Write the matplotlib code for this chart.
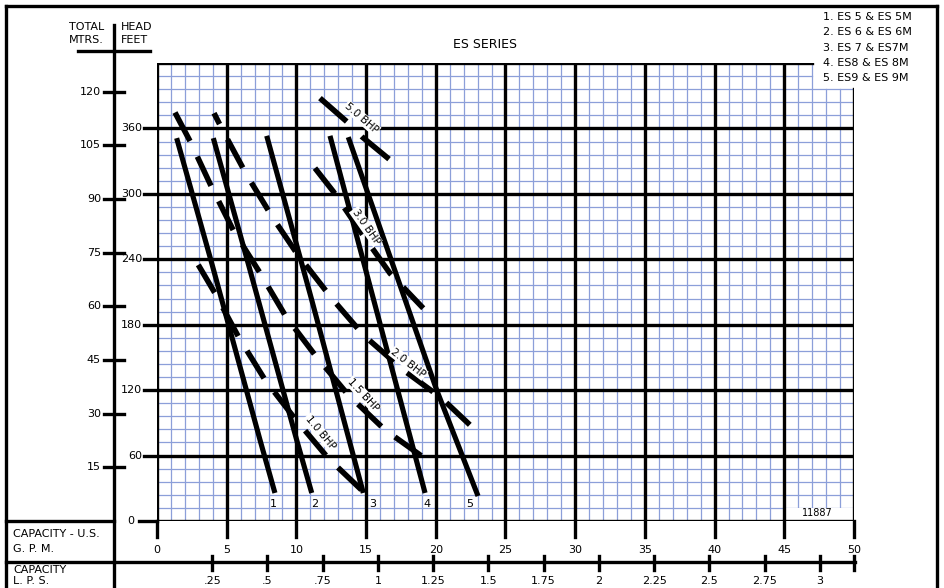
"""
ES series pump performance chart: head vs capacity, with BHP lines.
"""
import matplotlib
matplotlib.use("Agg")
import matplotlib.pyplot as plt
from matplotlib.patches import Rectangle
from matplotlib.transforms import blended_transform_factory as blend

plt.rcParams.update({"font.family": "DejaVu Sans", "font.size": 8})

# ---------------------------------------------------------------------------
# Data (capacity in US GPM, total head in feet)
# ---------------------------------------------------------------------------
CURVE_NAMES = ["1", "2", "3", "4", "5"]
CURVE_GPM = [
    [1.41, 3.92, 7.39, 8.46],
    [4.04, 6.53, 10.02, 11.10],
    [7.87, 11.10, 14.80],
    [12.41, 19.23],
    [13.72, 15.04, 20.06, 23.03],
]
CURVE_FT = [
    [351.1, 236.7, 74.3, 25.7],
    [351.1, 236.7, 74.3, 25.7],
    [353.2, 202.7, 25.7],
    [353.2, 25.7],
    [352.0, 303.7, 120.2, 22.9],
]

BHP_NAMES = ["1.0 BHP", "1.5 BHP", "2.0 BHP", "3.0 BHP", "5.0 BHP"]
BHP_GPM = [
    [2.96, 4.16, 5.90, 7.75, 9.78, 12.29, 14.92],
    [1.29, 2.42, 3.92, 5.52, 7.39, 9.25, 11.33, 13.72, 16.36, 19.58],
    [4.09, 4.76, 6.43, 8.30, 10.02, 12.53, 14.80, 17.67, 20.42, 22.58],
    [11.33, 12.65, 14.68, 16.71, 19.10],
    [11.69, 13.61, 14.68, 16.71],
]
BHP_FT = [
    [234.9, 208.9, 167.6, 129.4, 95.7, 57.5, 25.4],
    [374.6, 347.1, 306.1, 265.4, 227.5, 187.4, 152.3, 115.6, 83.5, 54.1],
    [374.0, 357.1, 317.4, 278.2, 245.6, 204.3, 170.6, 138.5, 112.6, 86.5],
    [323.6, 302.1, 263.9, 227.2, 195.1],
    [387.8, 366.3, 352.6, 331.2],
]

GPM_TICKS = [0, 5, 10, 15, 20, 25, 30, 35, 40, 45, 50]
FT_TICKS = [0, 60, 120, 180, 240, 300, 360]
M_TICKS = [15, 30, 45, 60, 75, 90, 105, 120]
LPS_TICKS = [0.25, 0.5, 0.75, 1.0, 1.25, 1.5, 1.75, 2.0, 2.25, 2.5, 2.75, 3.0]
LPS_LABELS = [".25", ".5", ".75", "1", "1.25", "1.5", "1.75", "2", "2.25", "2.5", "2.75", "3"]
LEGEND = ["1. ES 5 & ES 5M", "2. ES 6 & ES 6M", "3. ES 7 & ES7M",
          "4. ES8 & ES 8M", "5. ES9 & ES 9M"]

FT_PER_M = 3.28084
GPM_PER_LPS = 15.850

# ---------------------------------------------------------------------------
# Layout (pixels) and label placement
# ---------------------------------------------------------------------------
W, H = 944, 588
GX0, GX1, GY0, GY1 = 157, 854, 521, 63      # grid box in pixels
XMAX, YMAX = 50, 420
NOTCH_X, NOTCH_Y = 47, 396                   # legend cut-out, top right

CURVE_LABEL_GPM = [8.32, 11.33, 15.49, 19.37, 22.45]
CURVE_LABEL_FT = 16.0
BHP_LABEL_GPM = [11.69, 14.80, 18.03, 14.98, 14.68]
BHP_LABEL_FT = [81.2, 115.6, 144.7, 270.0, 369.4]
BHP_LABEL_ROT = [-50, -47, -38, -55, -41]
BHP_DASH = [(0, (5.8, 3.1)), (0, (5.8, 3.1)), (3.6, (5.8, 3.1)),
            (0, (5.8, 3.1)), (0, (6.4, 3.8))]

MINOR = "#8c9fd9"
LW_MAJ = 2.4

fig = plt.figure(figsize=(W / 100, H / 100), dpi=100)
frame = fig.add_axes([0, 0, 1, 1])
frame.set_xlim(0, W); frame.set_ylim(H, 0); frame.axis("off")

ax = fig.add_axes([GX0 / W, (H - GY0) / H, (GX1 - GX0) / W, (GY0 - GY1) / H])
ax.set_xlim(0, XMAX); ax.set_ylim(0, YMAX); ax.axis("off")
ax.patch.set_visible(False)

# --- minor grid ---------------------------------------------------------
for g in range(0, XMAX + 1):
    top = NOTCH_Y if g > NOTCH_X else YMAX
    ax.plot([g, g], [0, top], color=MINOR, lw=0.9, zorder=1)
for f in range(0, YMAX + 1, 12):
    right = NOTCH_X if f > NOTCH_Y else XMAX
    ax.plot([0, right], [f, f], color=MINOR, lw=0.9, zorder=1)

# white box behind the drawing number
ax.add_patch(Rectangle((45, 0), 5, 11.7, facecolor="white", edgecolor="none", zorder=1.5))
ax.text(47.4, 7.6, "11887", ha="center", va="center", fontsize=7, zorder=5)

# --- major grid ---------------------------------------------------------
for g in GPM_TICKS:
    top = NOTCH_Y if g > NOTCH_X else YMAX
    ax.plot([g, g], [0, top], color="black", lw=LW_MAJ, zorder=2, solid_capstyle="projecting")
for f in FT_TICKS + [YMAX]:
    right = NOTCH_X if f > NOTCH_Y else XMAX
    ax.plot([0, right], [f, f], color="black", lw=LW_MAJ, zorder=2, solid_capstyle="projecting")

# --- pump curves and BHP lines -----------------------------------------
for name, xs, ys, lx in zip(CURVE_NAMES, CURVE_GPM, CURVE_FT, CURVE_LABEL_GPM):
    ax.plot(xs, ys, color="black", lw=3.7, zorder=3, solid_capstyle="butt")
    ax.text(lx, CURVE_LABEL_FT, name, ha="center", va="center", fontsize=8, zorder=5)

for name, xs, ys, lx, ly, rot, dash in zip(BHP_NAMES, BHP_GPM, BHP_FT, BHP_LABEL_GPM,
                                            BHP_LABEL_FT, BHP_LABEL_ROT, BHP_DASH):
    ax.plot(xs, ys, color="black", lw=4.0, linestyle=dash, dash_capstyle="butt", zorder=3)
    ax.text(lx, ly, name, rotation=rot, rotation_mode="anchor", ha="center", va="center",
            fontsize=7.5, zorder=5, bbox=dict(facecolor="white", edgecolor="none", pad=0.6))

# --- title and legend ---------------------------------------------------
frame.text(485, 45, "ES SERIES", ha="center", va="center", fontsize=9)
for i, entry in enumerate(LEGEND):
    frame.text(823, 17 + 15.3 * i, entry, ha="left", va="center", fontsize=8)

# --- outer frame and table lines ---------------------------------------
K = dict(color="black", lw=LW_MAJ, solid_capstyle="projecting")
frame.plot([6, 937], [6, 6], **K)
frame.plot([6, 6], [6, H + 5], **K)
frame.plot([937, 937], [6, H + 5], **K)
frame.plot([6, 114], [521, 521], **K)
frame.plot([6, 855], [562, 562], **K)

# header of the head axis
frame.plot([114, 114], [25, H + 5], **K)
frame.plot([78, 150], [51, 51], **K)
frame.text(104, 27, "TOTAL", ha="right", va="center")
frame.text(104, 40, "MTRS.", ha="right", va="center")
frame.text(121, 27, "HEAD", ha="left", va="center")
frame.text(121, 40, "FEET", ha="left", va="center")

frame.text(13, 534, "CAPACITY - U.S.", ha="left", va="center")
frame.text(13, 549, "G. P. M.", ha="left", va="center")
frame.text(13, 570, "CAPACITY", ha="left", va="center")
frame.text(13, 581, "L. P. S.", ha="left", va="center")

# --- head axes (feet on the right of the rule, metres on the left) ------
px_ft = blend(frame.transData, ax.transData)
for f in FT_TICKS:
    x0 = 139 if f == 0 else 144
    frame.plot([x0, GX0], [f, f], transform=px_ft, **K)
    frame.text(x0 - 2 if f else 131, f, str(f), transform=px_ft,
               ha="right" if f else "center", va="center")
for m in M_TICKS:
    frame.plot([104, 124], [m * FT_PER_M] * 2, transform=px_ft, **K)
    frame.text(101, m * FT_PER_M, str(m), transform=px_ft, ha="right", va="center")

# --- capacity axes ------------------------------------------------------
gpm_px = blend(ax.transData, frame.transData)
for g in GPM_TICKS:
    frame.plot([g, g], [521, 537], transform=gpm_px, **K)
    frame.text(g, 550, str(g), transform=gpm_px, ha="center", va="center")
for v, lab in zip(LPS_TICKS + [XMAX / GPM_PER_LPS], LPS_LABELS + [""]):
    frame.plot([v * GPM_PER_LPS] * 2, [556, 570], transform=gpm_px, **K)
    frame.text(v * GPM_PER_LPS, 581, lab, transform=gpm_px, ha="center", va="center")

fig.savefig("out.png", dpi=100)
